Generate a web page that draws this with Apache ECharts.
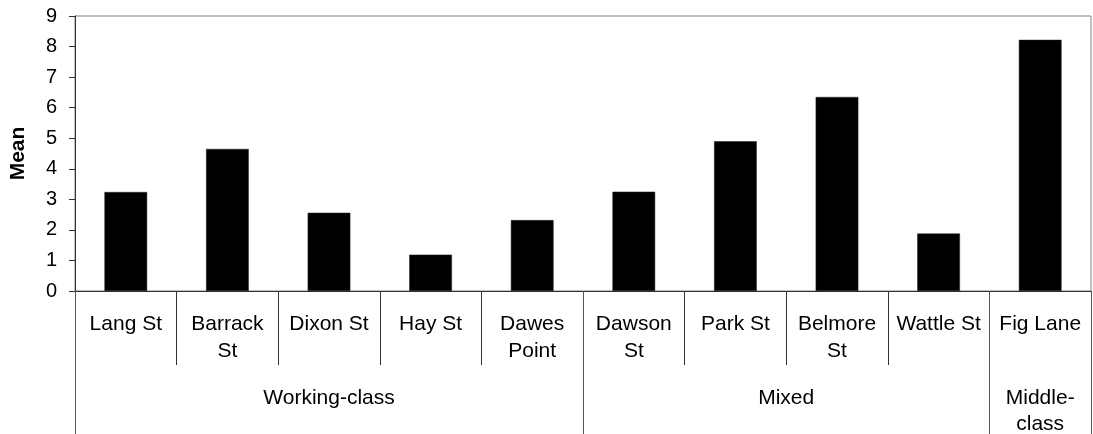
<!DOCTYPE html>
<html>
<head>
<meta charset="utf-8">
<script src="https://cdn.jsdelivr.net/npm/echarts@6/dist/echarts.min.js"></script>
<style>
html,body{margin:0;padding:0;background:#fff;}
#chart{width:1093px;height:434px;}
</style>
</head>
<body>
<div id="chart"></div>
<script>
const categories = ['Lang St','Barrack\nSt','Dixon St','Hay St','Dawes\nPoint','Dawson\nSt','Park St','Belmore\nSt','Wattle St','Fig Lane'];
const means = [3.24, 4.65, 2.56, 1.19, 2.32, 3.25, 4.90, 6.35, 1.88, 8.22];
const groupNames = ['Working-class', 'Mixed', 'Middle-\nclass'];
const groupSizes = [5, 4, 1];
const yTicks = [0, 1, 2, 3, 4, 5, 6, 7, 8, 9];

// derive group boundaries and centers (in category units)
const boundaries = [0];
const centers = [];
groupSizes.forEach(function (n) {
  const start = boundaries[boundaries.length - 1];
  centers.push(start + n / 2);
  boundaries.push(start + n);
});
const centerLabel = {};
centers.forEach(function (c, i) { centerLabel[c] = groupNames[i]; });

const FONT = 'Liberation Sans, Arial, sans-serif';
const chart = echarts.init(document.getElementById('chart'), null, {renderer: 'canvas'});
chart.setOption({
  animation: false,
  backgroundColor: '#fff',
  grid: {
    left: 75, right: 2, top: 16, bottom: 143,
    show: true, borderColor: '#808080', borderWidth: 1,
    outerBoundsMode: 'none'
  },
  xAxis: [
    {
      type: 'category',
      data: categories,
      position: 'bottom',
      axisLine: {show: true, lineStyle: {color: '#333', width: 1}},
      axisTick: {show: true, interval: 0, alignWithLabel: false, length: 74, lineStyle: {color: '#333'}},
      axisLabel: {interval: 0, margin: 20, fontSize: 21, lineHeight: 27, color: '#000', fontFamily: FONT},
      splitLine: {show: false}
    },
    {
      type: 'value',
      position: 'bottom',
      min: 0,
      max: categories.length,
      axisLine: {show: false},
      splitLine: {show: false},
      axisTick: {show: true, customValues: boundaries, length: 143, lineStyle: {color: '#555'}},
      axisLabel: {
        show: true, customValues: centers, margin: 94, fontSize: 21, lineHeight: 26,
        color: '#000', fontFamily: FONT, align: 'center',
        formatter: function (v) { return centerLabel[v] || ''; }
      }
    }
  ],
  yAxis: {
    type: 'value',
    min: yTicks[0], max: yTicks[yTicks.length - 1], interval: 1,
    name: 'Mean',
    nameLocation: 'middle',
    nameRotate: 90,
    nameGap: 46,
    nameTextStyle: {fontSize: 21, fontWeight: 'bold', color: '#000', fontFamily: FONT},
    axisLine: {show: true, lineStyle: {color: '#333', width: 1}},
    axisTick: {show: true, inside: false, length: 6, lineStyle: {color: '#333'}},
    axisLabel: {margin: 18, fontSize: 20, color: '#000', fontFamily: FONT},
    splitLine: {show: false}
  },
  series: [{
    type: 'bar',
    xAxisIndex: 0,
    data: means,
    barWidth: '42%',
    itemStyle: {color: '#000', borderColor: '#222', borderWidth: 0.5}
  }]
});
</script>
</body>
</html>
